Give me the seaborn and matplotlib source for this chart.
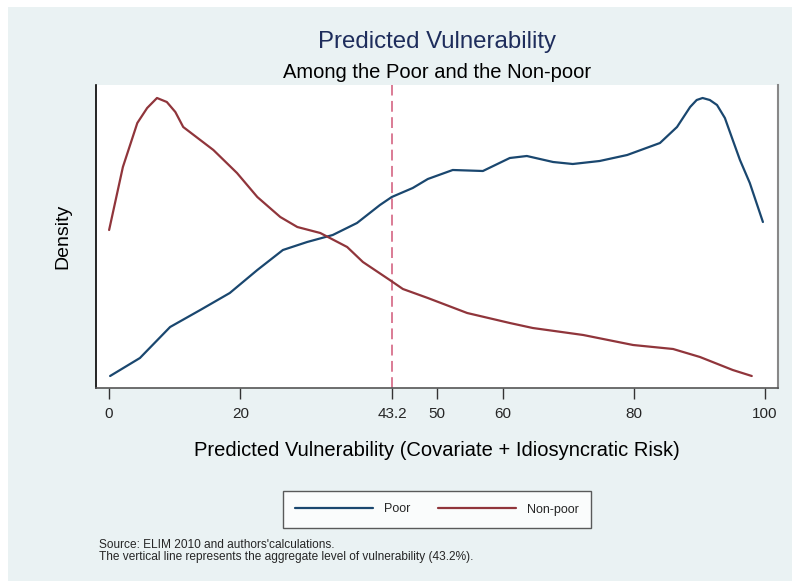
import matplotlib
matplotlib.use("Agg")
import matplotlib.pyplot as plt
import matplotlib.patches as mpatches
import seaborn as sns
import pandas as pd
import numpy as np

# ---- data ----
poor_x = [0.15, 4.7, 9.3, 13.9, 18.4, 22.6, 26.5, 30.2, 34.1, 37.8, 41.3, 43.1, 46.3,
          48.6, 52.4, 57.0, 61.1, 63.7, 67.7, 70.7, 74.8, 79.0, 84.0, 86.6, 88.6,
          89.6, 90.5, 91.6, 92.7, 93.9, 95.1, 96.2, 97.7, 99.7]
poor_d = [0.0006, 0.0015, 0.00305, 0.0039, 0.00475, 0.0059, 0.0069, 0.0073, 0.00765,
          0.00825, 0.00915, 0.00955, 0.0100, 0.01045, 0.0109, 0.01085, 0.0115, 0.0116,
          0.0113, 0.0112, 0.01135, 0.01165, 0.01225, 0.01305, 0.01405, 0.0144, 0.0145,
          0.0144, 0.01415, 0.0135, 0.0124, 0.0114, 0.01025, 0.0083]
nonpoor_x = [0.0, 2.1, 4.3, 5.8, 7.3, 8.8, 10.1, 11.3, 15.9, 19.5, 22.6, 26.1, 28.7,
             32.2, 36.3, 38.7, 42.8, 44.8, 48.6, 54.6, 61.1, 64.6, 72.3, 79.9, 86.0,
             90.1, 95.1, 98.0]
nonpoor_d = [0.0079, 0.01105, 0.01325, 0.0140, 0.0145, 0.0143, 0.0138, 0.01305, 0.0119,
             0.01075, 0.00955, 0.00855, 0.00805, 0.00775, 0.00705, 0.0063, 0.0054,
             0.00495, 0.0045, 0.00375, 0.00325, 0.0030, 0.00265, 0.00215, 0.00195,
             0.00155, 0.0009, 0.0006]
aggregate = 43.2
xticks = [0, 20, 43.2, 50, 60, 80, 100]
xticklabels = ["0", "20", "43.2", "50", "60", "80", "100"]
groups = ["Poor", "Non-poor"]

df = pd.concat([
    pd.DataFrame({"x": poor_x, "density": poor_d, "group": groups[0]}),
    pd.DataFrame({"x": nonpoor_x, "density": nonpoor_d, "group": groups[1]}),
])

BLUE = "#1a476f"
RED = "#90353b"
BG = "#eaf2f3"

sns.set_theme(style="white")
plt.rcParams["font.family"] = ["Liberation Sans", "DejaVu Sans"]

W, H = 792, 581
fig = plt.figure(figsize=(W / 100, H / 100), dpi=100)
fig.patch.set_facecolor("white")
fig.patches.append(mpatches.Rectangle((8 / W, 0), 1 - 8 / W, 1 - 7 / H,
                                      transform=fig.transFigure, facecolor=BG,
                                      edgecolor="none", zorder=-10))

ax = fig.add_axes([96 / W, 1 - 388 / H, (778 - 96) / W, (388 - 85) / H])
ax.set_facecolor("white")

sns.lineplot(data=df, x="x", y="density", hue="group", hue_order=groups,
             palette={groups[0]: BLUE, groups[1]: RED}, linewidth=1.6,
             sort=False, estimator=None, ax=ax, legend=False)
ax.axvline(aggregate, color="#d8718c", linestyle=(0, (6, 3)), linewidth=1.3, zorder=0)

ax.set_xlim(-2, 102)
ax.set_ylim(0, 0.01515)
ax.set_xticks(xticks)
ax.set_xticklabels(xticklabels, fontsize=11)
ax.set_yticks([])
ax.tick_params(axis="x", direction="out", length=8, width=1, color="#333333",
               bottom=True, pad=6)
ax.spines["top"].set_visible(False)
ax.spines["left"].set_color("black")
ax.spines["left"].set_linewidth(1.2)
ax.spines["bottom"].set_color("#555555")
ax.spines["bottom"].set_linewidth(1.2)
ax.spines["right"].set_color("#888888")
ax.spines["right"].set_linewidth(1.5)

ax.set_xlabel("Predicted Vulnerability (Covariate + Idiosyncratic Risk)", fontsize=14.5,
              labelpad=14, color="black")
ax.set_ylabel("Density", fontsize=14, labelpad=18, color="black")

cx = (96 + 778) / 2 / W
fig.text(cx, 1 - 42 / H, "Predicted Vulnerability", ha="center", va="center",
         fontsize=17.3, color="#1e2d5c")
fig.text(cx, 1 - 72 / H, "Among the Poor and the Non-poor", ha="center", va="center",
         fontsize=14.5, color="black")

handles = [plt.Line2D([], [], color=BLUE, linewidth=1.6),
           plt.Line2D([], [], color=RED, linewidth=1.6)]
leg = fig.legend(handles, groups, loc="center", ncol=2,
                 bbox_to_anchor=(cx, 1 - 509.5 / H), frameon=True, fontsize=9,
                 handlelength=6.2, columnspacing=2.2, handletextpad=0.9,
                 borderpad=1.0, borderaxespad=0, fancybox=False)
leg.get_frame().set_edgecolor("#333333")
leg.get_frame().set_linewidth(1.0)
leg.get_frame().set_facecolor("white")

fig.text(99 / W, 1 - 545 / H, "Source: ELIM 2010 and authors'calculations.",
         ha="left", va="center", fontsize=8.6)
fig.text(99 / W, 1 - 557 / H,
         "The vertical line represents the aggregate level of vulnerability (43.2%).",
         ha="left", va="center", fontsize=8.6)

fig.savefig("out.png", dpi=100, facecolor=fig.get_facecolor())
